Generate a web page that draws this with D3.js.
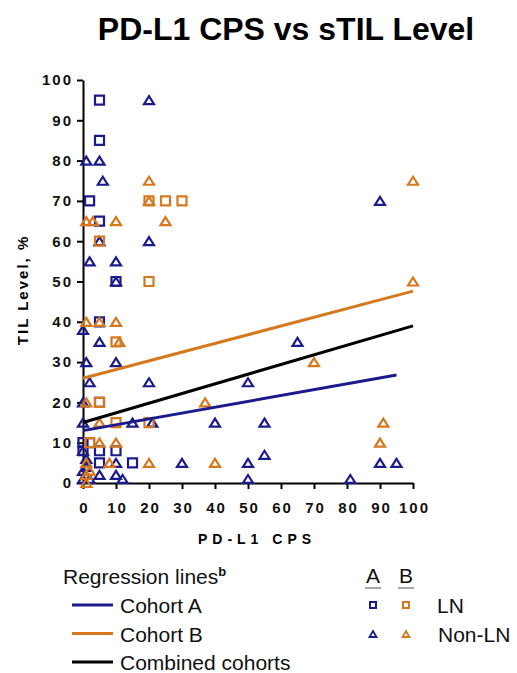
<!DOCTYPE html>
<html>
<head>
<meta charset="utf-8">
<script src="https://cdn.jsdelivr.net/npm/d3@7"></script>
<style>
  body { margin: 0; background: #fff; }
  svg { font-family: "Liberation Sans", Arial, sans-serif; }
  .axis path, .axis line { stroke: #000; stroke-width: 2; }
  .axis text { font-size: 15px; font-weight: bold; letter-spacing: 2px; fill: #111; }
</style>
</head>
<body>
<svg id="chart" width="517" height="673"></svg>
<script>
// Points: [PD-L1 CPS, TIL level %]
const cohortA_LN = [
  [5, 95], [5, 85], [2, 70], [5, 65], [10, 50], [5, 40], [5, 20],
  [0, 10], [2, 10], [0, 8], [5, 8], [10, 8], [5, 5], [15, 5]
];
const cohortA_nonLN = [
  [20, 95], [1, 80], [5, 80], [6, 75], [20, 60], [5, 60], [2, 55], [10, 55],
  [10, 50], [0, 38], [5, 35], [1, 30], [10, 30], [2, 25], [20, 25], [0, 20],
  [0, 15], [15, 15], [21, 15], [10, 5], [30, 5], [0, 3], [5, 2], [10, 2],
  [12, 1], [0, 1], [1, 6], [0, 8], [1, 4], [2, 1], [40, 15], [55, 15],
  [50, 25], [65, 35], [90, 70], [50, 5], [50, 1], [55, 7], [81, 1],
  [90, 5], [95, 5]
];
const cohortB_LN = [
  [20, 70], [25, 70], [30, 70], [5, 60], [20, 50], [10, 35], [5, 20],
  [10, 15], [20, 15], [2, 10]
];
const cohortB_nonLN = [
  [20, 75], [20, 70], [1, 65], [3, 65], [10, 65], [25, 65], [1, 40], [5, 40],
  [10, 40], [11, 35], [1, 20], [37, 20], [5, 15], [5, 10], [10, 10], [1, 5],
  [8, 5], [20, 5], [40, 5], [70, 30], [90, 10], [91, 15], [100, 75],
  [100, 50], [1, 2], [1, 0], [2, 3]
];

// Regression line end points: [x0, y0, x1, y1]
const regCohortA = [0, 13, 95, 26.8];
const regCohortB = [0, 26, 100, 47.6];
const regCombined = [0, 15, 100, 39];

const xTicks = [0, 10, 20, 30, 40, 50, 60, 70, 80, 90, 100];
const yTicks = [0, 10, 20, 30, 40, 50, 60, 70, 80, 90, 100];

const BLUE = "#1b1b8e";
const ORANGE = "#d6791e";

const svg = d3.select("#chart");

const x = d3.scaleLinear().domain([0, 100]).range([83, 413]);
const y = d3.scaleLinear().domain([0, 100]).range([483, 80]);

// Title
svg.append("text")
  .attr("x", 286)
  .attr("y", 40)
  .attr("text-anchor", "middle")
  .style("font-size", "32px")
  .style("font-weight", "bold")
  .text("PD-L1 CPS vs sTIL Level");

// Axes
svg.append("g")
  .attr("class", "axis")
  .attr("transform", `translate(0,${y(0)})`)
  .call(d3.axisBottom(x).tickValues(xTicks).tickSize(6).tickSizeOuter(0).tickPadding(13));

svg.append("g")
  .attr("class", "axis")
  .attr("transform", `translate(${x(0)},0)`)
  .call(d3.axisLeft(y).tickValues(yTicks).tickSize(6).tickSizeOuter(0).tickPadding(5));

svg.selectAll(".axis text").attr("dx", "1px");

svg.append("text")
  .attr("x", 257)
  .attr("y", 544)
  .attr("text-anchor", "middle")
  .style("font-size", "14px")
  .style("font-weight", "bold")
  .style("letter-spacing", "5px")
  .text("PD-L1 CPS");

svg.append("text")
  .attr("transform", "translate(28,290) rotate(-90)")
  .attr("text-anchor", "middle")
  .style("font-size", "15px")
  .style("font-weight", "bold")
  .style("letter-spacing", "2px")
  .text("TIL Level, %");

// Markers
const square = (s) => `M${-s / 2},${-s / 2}h${s}v${s}h${-s}Z`;
const triangle = (w, h) => `M0,${-h / 2}L${w / 2},${h / 2}L${-w / 2},${h / 2}Z`;

function drawPoints(data, color, path) {
  svg.append("g")
    .selectAll("path")
    .data(data)
    .enter()
    .append("path")
    .attr("transform", (d) => `translate(${x(d[0])},${y(d[1])})`)
    .attr("d", path)
    .attr("fill", "none")
    .attr("stroke", color)
    .attr("stroke-width", 2.2);
}

drawPoints(cohortA_nonLN, BLUE, triangle(10, 8));
drawPoints(cohortA_LN, BLUE, square(9));
drawPoints(cohortB_nonLN, ORANGE, triangle(10, 8));
drawPoints(cohortB_LN, ORANGE, square(9));

// Regression lines
function drawReg(r, color) {
  svg.append("line")
    .attr("x1", x(r[0]))
    .attr("y1", y(r[1]))
    .attr("x2", x(r[2]))
    .attr("y2", y(r[3]))
    .attr("stroke", color)
    .attr("stroke-width", 3);
}
drawReg(regCohortB, ORANGE);
drawReg(regCombined, "#000");
drawReg(regCohortA, BLUE);

// Legend
const legendLines = [
  { label: "Cohort A", color: BLUE },
  { label: "Cohort B", color: ORANGE },
  { label: "Combined cohorts", color: "#000" }
];

const leg = svg.append("g").style("font-size", "21px").style("fill", "#111");

const head = leg.append("text").attr("x", 63).attr("y", 584);
head.append("tspan").text("Regression lines");
head.append("tspan")
  .attr("dy", -8)
  .style("font-size", "13px")
  .style("font-weight", "bold")
  .text("b");

legendLines.forEach((d, i) => {
  const yy = 613 + i * 28.5;
  leg.append("line")
    .attr("x1", 72).attr("x2", 113)
    .attr("y1", yy - 8).attr("y2", yy - 8)
    .attr("stroke", d.color)
    .attr("stroke-width", 3);
  leg.append("text").attr("x", 120).attr("y", yy).text(d.label);
});

["A", "B"].forEach((c, i) => {
  const cx = 373 + i * 33;
  leg.append("text").attr("x", cx).attr("y", 583).attr("text-anchor", "middle").text(c);
  leg.append("line")
    .attr("x1", cx - 8).attr("x2", cx + 8)
    .attr("y1", 588).attr("y2", 588)
    .attr("stroke", "#888")
    .attr("stroke-width", 1.5);
  const color = i === 0 ? BLUE : ORANGE;
  leg.append("path")
    .attr("transform", `translate(${cx},605)`)
    .attr("d", square(6))
    .attr("fill", "none").attr("stroke", color).attr("stroke-width", 2);
  leg.append("path")
    .attr("transform", `translate(${cx},634)`)
    .attr("d", triangle(7, 6))
    .attr("fill", "none").attr("stroke", color).attr("stroke-width", 1.8);
});

leg.append("text").attr("x", 437).attr("y", 613).text("LN");
leg.append("text").attr("x", 438).attr("y", 642).text("Non-LN");
</script>
</body>
</html>
